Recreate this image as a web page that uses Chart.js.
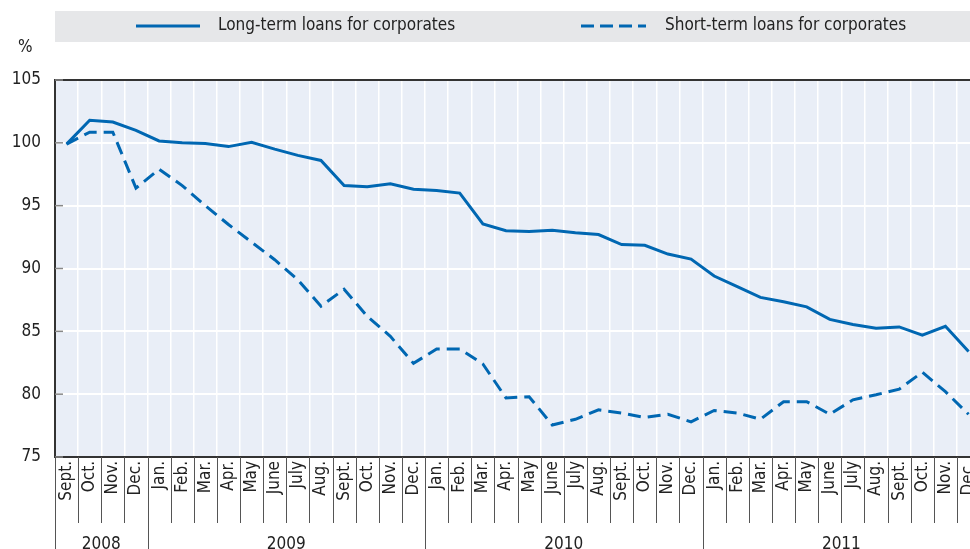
<!DOCTYPE html>
<html>
<head>
<meta charset="utf-8">
<script src="https://cdn.jsdelivr.net/npm/chart.js@4"></script>
<style>
  html, body { margin: 0; padding: 0; background: #fff; overflow: hidden; }
  #wrap { width: 993px; height: 549px; }
</style>
</head>
<body>
<div id="wrap"><canvas id="loans-chart" width="993" height="549"></canvas></div>
<script>
const months = [
    'Sept.', 'Oct.', 'Nov.', 'Dec.',
    'Jan.', 'Feb.', 'Mar.', 'Apr.', 'May', 'June', 'July', 'Aug.', 'Sept.', 'Oct.', 'Nov.', 'Dec.',
    'Jan.', 'Feb.', 'Mar.', 'Apr.', 'May', 'June', 'July', 'Aug.', 'Sept.', 'Oct.', 'Nov.', 'Dec.',
    'Jan.', 'Feb.', 'Mar.', 'Apr.', 'May', 'June', 'July', 'Aug.', 'Sept.', 'Oct.', 'Nov.', 'Dec.'
];
const years = ['2008', '2009', '2010', '2011'];
const yearStart = [0, 4, 16, 28, 40];

const longTerm = [
    99.9, 101.8, 101.65, 101.0,
    100.15, 100.0, 99.95, 99.7, 100.05, 99.5, 99.0, 98.6, 96.6, 96.5, 96.75, 96.3,
    96.2, 96.0, 93.55, 93.0, 92.95, 93.05, 92.85, 92.7, 91.9, 91.85, 91.15, 90.75,
    89.4, 88.55, 87.7, 87.35, 86.95, 85.95, 85.55, 85.25, 85.35, 84.7, 85.4, 83.4
];
const shortTerm = [
    99.9, 100.85, 100.85, 96.4,
    97.9, 96.6, 95.0, 93.5, 92.1, 90.7, 89.1, 87.0, 88.35, 86.2, 84.6, 82.45,
    83.6, 83.6, 82.4, 79.7, 79.8, 77.55, 78.0, 78.75, 78.5, 78.15, 78.4, 77.8,
    78.7, 78.5, 78.0, 79.4, 79.4, 78.4, 79.55, 79.95, 80.4, 81.75, 80.2, 78.4
];
const yTicks = [75, 80, 85, 90, 95, 100, 105];

const BLUE = '#0067b2';
const FONT = '"Liberation Sans Narrow", "DejaVu Sans Condensed", sans-serif';

const decorations = {
    id: 'decorations',
    beforeDraw(chart) {
        const ctx = chart.ctx;
        const a = chart.chartArea;
        ctx.save();
        ctx.fillStyle = '#e9eef7';
        ctx.fillRect(a.left, a.top, a.right - a.left, a.bottom - a.top);
        ctx.restore();
    },
    afterDraw(chart) {
        const ctx = chart.ctx;
        const a = chart.chartArea;
        const y = chart.scales.y;
        const w = (a.right - a.left) / months.length;
        ctx.save();

        // legend band
        ctx.fillStyle = '#e6e7e9';
        ctx.fillRect(55, 11, 940, 31);
        ctx.strokeStyle = BLUE;
        ctx.lineWidth = 3;
        ctx.beginPath(); ctx.moveTo(136, 26); ctx.lineTo(200, 26); ctx.stroke();
        ctx.setLineDash([13, 6]);
        ctx.beginPath(); ctx.moveTo(581, 26); ctx.lineTo(646, 26); ctx.stroke();
        ctx.setLineDash([]);
        ctx.fillStyle = '#222';
        ctx.font = '17px ' + FONT;
        ctx.textBaseline = 'middle';
        ctx.textAlign = 'left';
        ctx.fillText('Long-term loans for corporates', 218, 26);
        ctx.fillText('Short-term loans for corporates', 665, 26);
        ctx.fillText('%', 18, 48);

        // frame top
        ctx.strokeStyle = '#333';
        ctx.lineWidth = 2;
        ctx.beginPath(); ctx.moveTo(a.left, a.top); ctx.lineTo(a.right, a.top); ctx.stroke();

        // small y ticks inside plot
        ctx.strokeStyle = '#888';
        ctx.lineWidth = 1.5;
        yTicks.forEach(v => {
            const py = y.getPixelForValue(v);
            ctx.beginPath(); ctx.moveTo(a.left, py); ctx.lineTo(a.left + 8, py); ctx.stroke();
        });

        // month separators and year separators below the axis
        ctx.strokeStyle = '#555';
        ctx.lineWidth = 1;
        for (let i = 0; i <= months.length; i++) {
            const px = Math.round(a.left + i * w) + 0.5;
            const bottom = yearStart.includes(i) ? 549 : 523;
            ctx.beginPath(); ctx.moveTo(px, a.bottom); ctx.lineTo(px, bottom); ctx.stroke();
        }

        // year labels
        ctx.fillStyle = '#222';
        ctx.font = '17px ' + FONT;
        ctx.textAlign = 'center';
        ctx.textBaseline = 'top';
        years.forEach((yr, k) => {
            const cx = a.left + (yearStart[k] + yearStart[k + 1]) / 2 * w;
            ctx.fillText(yr, cx, 536);
        });
        ctx.restore();
    }
};

function buildLoansChart() {
    new Chart(document.getElementById('loans-chart'), {
        type: 'line',
        data: {
            labels: months,
            datasets: [{
                label: 'Long-term loans for corporates',
                data: longTerm,
                borderColor: BLUE,
                borderWidth: 3,
                pointRadius: 0,
                tension: 0
            }, {
                label: 'Short-term loans for corporates',
                data: shortTerm,
                borderColor: BLUE,
                borderWidth: 3,
                borderDash: [13, 7],
                pointRadius: 0,
                tension: 0
            }]
        },
        options: {
            responsive: false,
            animation: false,
            devicePixelRatio: 1,
            layout: { padding: { top: 80, right: 2, left: 0, bottom: 0 } },
            plugins: {
                legend: { display: false },
                tooltip: { enabled: false }
            },
            scales: {
                x: {
                    offset: true,
                    afterFit: s => { s.height = 92; },
                    grid: { color: '#ffffff', lineWidth: 1.5, drawTicks: false, offset: true },
                    border: { color: '#333', width: 2 },
                    ticks: {
                        autoSkip: false,
                        maxRotation: 90,
                        minRotation: 90,
                        padding: 4,
                        color: '#222',
                        font: { family: FONT, size: 17 }
                    }
                },
                y: {
                    min: 75,
                    max: 105,
                    afterFit: s => { s.width = 55; },
                    afterBuildTicks: s => { s.ticks = yTicks.map(v => ({ value: v })); },
                    grid: { color: '#ffffff', lineWidth: 2, drawTicks: false },
                    border: { color: '#333', width: 2 },
                    ticks: {
                        padding: 14,
                        color: '#222',
                        font: { family: FONT, size: 17 }
                    }
                }
            }
        },
        plugins: [decorations]
    });
}

buildLoansChart();
</script>
</body>
</html>
